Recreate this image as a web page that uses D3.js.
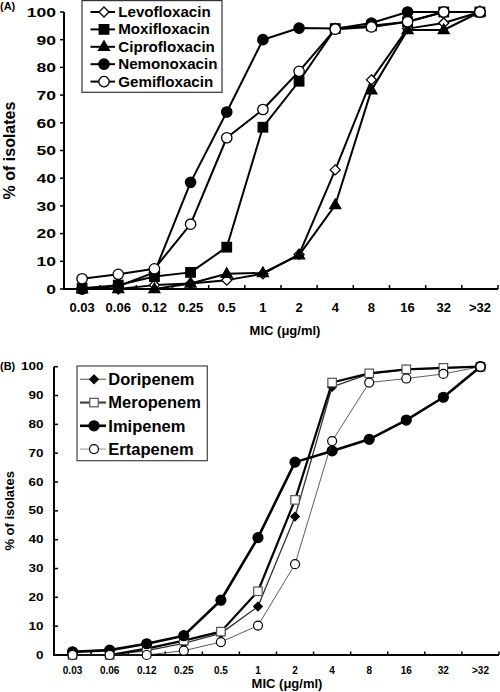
<!DOCTYPE html>
<html><head><meta charset="utf-8">
<script src="https://cdn.jsdelivr.net/npm/d3@7"></script>
<style>
body{margin:0;background:#fff;}
svg{display:block;font-family:"Liberation Sans",Arial,sans-serif;font-weight:bold;}
</style></head>
<body><svg id="c" width="500" height="692"></svg>
<script>
const categories = ["0.03","0.06","0.12","0.25","0.5","1","2","4","8","16","32",">32"];
const yTicks = [0,10,20,30,40,50,60,70,80,90,100];

// Panel A
const levofloxacin  = [0,0,1.4,2,3.2,5.5,12.5,43,75.5,94,96,100];
const moxifloxacin  = [0.3,1.4,4.5,6,15.1,58.4,75,94,95,96.5,100,100];
const ciprofloxacin = [0,0,0,2,5.5,5.8,12.2,30.3,71.8,93.5,93.5,100];
const nemonoxacin   = [0,1,6,38.5,63.9,90,94.2,94,96,100,100,100];
const gemifloxacin  = [3.7,5.3,7.3,23.4,54.6,64.8,78.6,93.8,94.6,96.5,100,100];

// Panel B
const doripenem  = [0,0,1.5,4,7.5,16.8,48,93,97.5,99,99.5,100];
const meropenem  = [0,0,2.2,5,8.1,22.1,53.8,94.5,97.7,99.1,99.6,100];
const imipenem   = [1.1,1.7,3.9,6.7,19,40.7,66.9,70.8,74.8,81.5,89.4,100];
const ertapenem  = [0,0,0,1.5,4.5,10.2,31.5,74.2,94.5,95.9,97.5,100];

const seriesA = [
  {name:"Levofloxacin", values:levofloxacin, shape:"diamond", fill:"#fff", stroke:"#000", lw:2, size:7, line:"#000"},
  {name:"Moxifloxacin", values:moxifloxacin, shape:"square", fill:"#000", stroke:"#000", lw:2, size:9.5, line:"#000"},
  {name:"Ciprofloxacin", values:ciprofloxacin, shape:"triangle", fill:"#000", stroke:"#000", lw:2, size:11, line:"#000"},
  {name:"Nemonoxacin", values:nemonoxacin, shape:"circle", fill:"#000", stroke:"#000", lw:2, size:5.2, line:"#000"},
  {name:"Gemifloxacin", values:gemifloxacin, shape:"circle", fill:"#fff", stroke:"#000", lw:2, size:5.2, line:"#000"}
];
const seriesB = [
  {name:"Doripenem", values:doripenem, shape:"diamond", fill:"#000", stroke:"#000", lw:1.3, size:6, line:"#333", legLine:"#777"},
  {name:"Meropenem", values:meropenem, shape:"square", fill:"#fff", stroke:"#555", lw:2.2, size:8.5, line:"#000", legLine:"#444"},
  {name:"Imipenem", values:imipenem, shape:"circle", fill:"#000", stroke:"#000", lw:2.6, size:5, line:"#000", legLine:"#000"},
  {name:"Ertapenem", values:ertapenem, shape:"circle", fill:"#fff", stroke:"#000", lw:0.8, size:4.5, line:"#333", legLine:"#777"}
];

const svg = d3.select("#c");

function drawMarker(g, s, x, y, sw) {
  if (s.shape === "circle") {
    g.append("circle").attr("cx",x).attr("cy",y).attr("r",s.size)
      .attr("fill",s.fill).attr("stroke",s.stroke).attr("stroke-width",sw);
  } else if (s.shape === "square") {
    g.append("rect").attr("x",x-s.size/2).attr("y",y-s.size/2).attr("width",s.size).attr("height",s.size)
      .attr("fill",s.fill).attr("stroke",s.stroke).attr("stroke-width",sw);
  } else if (s.shape === "diamond") {
    const h = s.size*0.72;
    g.append("path").attr("d",`M${x},${y-h}L${x+h},${y}L${x},${y+h}L${x-h},${y}Z`)
      .attr("fill",s.fill).attr("stroke",s.stroke).attr("stroke-width",sw);
  } else if (s.shape === "triangle") {
    const w = s.size/2, hh = s.size*0.866;
    g.append("path").attr("d",`M${x},${y-hh*0.62}L${x+w},${y+hh*0.38}L${x-w},${y+hh*0.38}Z`)
      .attr("fill",s.fill).attr("stroke",s.stroke).attr("stroke-width",sw);
  }
}

function panel(cfg) {
  const x = d3.scaleBand().domain(categories).range([cfg.x0, cfg.x1]);
  const y = d3.scaleLinear().domain([0,100]).range([cfg.yb, cfg.yt]);
  const g = svg.append("g");

  const xa = g.append("g").attr("transform",`translate(0,${cfg.yb})`)
    .call(d3.axisBottom(x).tickSize(0).tickPadding(cfg.xPad));
  xa.select(".domain").remove();
  xa.selectAll("text").attr("font-size",cfg.xFont).attr("font-family","Liberation Sans, Arial").attr("font-weight","bold").attr("fill","#000");
  const bounds = categories.map(c => x(c)).concat([cfg.x1]).slice(1);
  g.selectAll(".xt").data(bounds).enter().append("line")
    .attr("x1",d=>d).attr("x2",d=>d).attr("y1",cfg.yb).attr("y2",cfg.yb-cfg.xTick)
    .attr("stroke","#000").attr("stroke-width",1.5);
  g.append("line").attr("x1",cfg.x0).attr("x2",cfg.x1).attr("y1",cfg.yb).attr("y2",cfg.yb)
    .attr("stroke","#000").attr("stroke-width",2);

  g.selectAll(".yt").data(yTicks).enter().append("line")
    .attr("x1",cfg.x0).attr("x2",cfg.x0+cfg.yTickDir*4).attr("y1",d=>y(d)).attr("y2",d=>y(d))
    .attr("stroke","#000").attr("stroke-width",1.5);
  g.append("line").attr("x1",cfg.x0).attr("x2",cfg.x0).attr("y1",cfg.yb+1).attr("y2",cfg.yt)
    .attr("stroke","#000").attr("stroke-width",2);
  g.selectAll(".yl").data(yTicks).enter().append("text")
    .attr("transform",d=>`translate(${cfg.yLabX},${y(d)+cfg.yFont*0.36}) scale(${cfg.yStretch},1)`)
    .attr("text-anchor","end").attr("font-size",cfg.yFont).text(d=>d);

  g.append("text").attr("x",cfg.xTitleX).attr("y",cfg.xTitleY).attr("text-anchor","middle")
    .attr("font-size",13).text("MIC (\u03bcg/ml)");
  g.append("text").attr("transform",`translate(${cfg.yTitleX},${(cfg.yb+cfg.yt)/2}) rotate(-90)`)
    .attr("text-anchor","middle").attr("font-size",cfg.yTitleFont).text("% of isolates");
  g.append("text").attr("x",0).attr("y",cfg.labY).attr("font-size",11).text(cfg.label);

  const line = d3.line().x((d,i)=>x(categories[i])+x.bandwidth()/2).y(d=>y(d));
  cfg.series.forEach(s => {
    const sg = g.append("g");
    sg.append("path").datum(s.values).attr("d",line).attr("fill","none")
      .attr("stroke",s.line).attr("stroke-width",s.lw).attr("stroke-linejoin","round");
    s.values.forEach((v,i) => drawMarker(sg, s, x(categories[i])+x.bandwidth()/2, y(v), cfg.mStroke));
  });

  const L = cfg.legend;
  const lg = g.append("g");
  lg.append("rect").attr("x",L.x0).attr("y",L.y0).attr("width",L.x1-L.x0).attr("height",L.y1-L.y0)
    .attr("fill","#fff").attr("stroke",L.boxColor).attr("stroke-width",1.2);
  cfg.series.forEach((s,i) => {
    const cy = L.first + i*L.step;
    lg.append("line").attr("x1",L.lx0).attr("x2",L.lx1).attr("y1",cy).attr("y2",cy)
      .attr("stroke",s.legLine||s.line).attr("stroke-width",s.lw);
    drawMarker(lg, s, L.mx, cy, cfg.mStroke);
    lg.append("text").attr("x",L.tx).attr("y",cy+L.font*0.36).attr("font-size",L.font)
      .attr("transform",`translate(${L.tx},0) scale(${L.stretch},1) translate(${-L.tx},0)`)
      .text(s.name);
  });
}

panel({
  series: seriesA, label:"(A)", labY:10,
  x0:64, x1:498, yb:289, yt:12,
  xFont:13, xPad:14, xTick:4, yTickDir:-1,
  yFont:13.5, yLabX:56, yStretch:1.3,
  xTitleX:285, xTitleY:335, yTitleX:15, yTitleFont:16,
  mStroke:1.3,
  legend:{x0:82, x1:222, y0:0.6, y1:92.3, first:12, step:17.4, lx0:90.5, lx1:115, mx:104, tx:118.3, font:14, stretch:1.08, boxColor:"#333"}
});

panel({
  series: seriesB, label:"(B)", labY:370,
  x0:54, x1:499, yb:655, yt:366.7,
  xFont:10, xPad:12, xTick:3.5, yTickDir:1,
  yFont:10, yLabX:43.5, yStretch:1.35,
  xTitleX:287, xTitleY:688, yTitleX:13.5, yTitleFont:13,
  mStroke:1.2,
  legend:{x0:77, x1:207.3, y0:366, y1:460.7, first:379.3, step:23.25, lx0:80, lx1:106, mx:94, tx:108.3, font:16.5, stretch:1.0, boxColor:"#444"}
});
</script></body></html>
